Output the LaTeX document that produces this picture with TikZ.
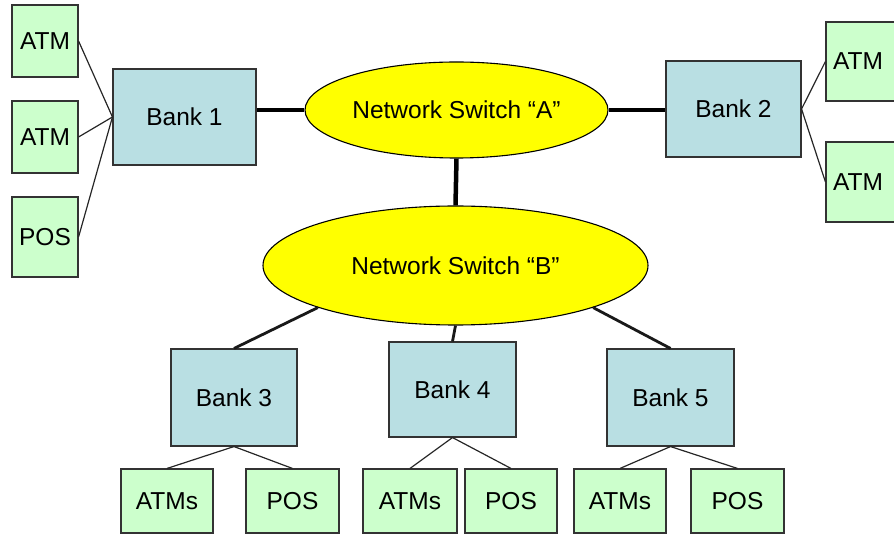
\documentclass[tikz,border=0pt]{standalone}
\usepackage{fontspec}
\setmainfont{Liberation Sans}
\usetikzlibrary{shapes.geometric}
\definecolor{bankblue}{HTML}{B9DFE3}
\definecolor{termgreen}{HTML}{CCFFCC}
\definecolor{switchyellow}{HTML}{FFFF00}
\definecolor{edgegray}{HTML}{333333}
\tikzset{
  boxbase/.style={draw=edgegray, line width=1.1pt, inner sep=0pt, font=\fontsize{24.5}{29}\selectfont},
  bank/.style={boxbase, fill=bankblue, minimum width=#1, minimum height=96pt},
  bank/.default=127pt,
  term/.style={boxbase, fill=termgreen, minimum width=#1},
  switchnode/.style={boxbase, ellipse, fill=switchyellow, draw=black},
  thinlink/.style={line width=1.2pt, draw=black!85},
  thicklink/.style={line width=4.5pt, draw=black},
  banklink/.style={line width=2.8pt, draw=black!90}
}
\begin{document}
\begin{tikzpicture}[x=1pt,y=-1pt]
\useasboundingbox (0,0) rectangle (894,534);

% switches
\node[switchnode, minimum width=303pt, minimum height=96pt] (A) at (456.5,110) {Network Switch “A”};
\node[switchnode, minimum width=385pt, minimum height=119pt] (B) at (455.5,265.5) {Network Switch “B”};

% banks
\node[bank=143pt] (b1) at (184.5,117) {Bank 1};
\node[bank=135pt] (b2) at (733.5,109) {Bank 2};
\node[bank=126pt, minimum height=97pt] (b3) at (234,397.5) {Bank 3};
\node[bank=127pt, minimum height=95pt] (b4) at (452.5,389.5) {Bank 4};
\node[bank=127pt, minimum height=97pt] (b5) at (670.5,397.5) {Bank 5};

% terminals of bank 1
\node[term=66pt, minimum height=72pt] (t1a) at (45,41) {ATM};
\node[term=66pt, minimum height=72pt] (t1b) at (45,137) {ATM};
\node[term=66pt, minimum height=80pt] (t1c) at (45,237) {POS};

% terminals of bank 2
\node[term=70pt, minimum height=79pt] (t2a) at (861,61.5) {\hspace*{-6pt}ATM};
\node[term=70pt, minimum height=80pt] (t2b) at (861,182) {\hspace*{-6pt}ATM};

% terminals of banks 3-5
\node[term=92pt, minimum height=64pt] (t3a) at (167,501) {ATMs};
\node[term=93pt, minimum height=64pt] (t3b) at (292.5,501) {POS};
\node[term=94pt, minimum height=64pt] (t4a) at (410,501) {ATMs};
\node[term=92pt, minimum height=64pt] (t4b) at (511,501) {POS};
\node[term=92pt, minimum height=64pt] (t5a) at (620,501) {ATMs};
\node[term=93pt, minimum height=64pt] (t5b) at (737.5,501) {POS};

% backbone links
\draw[thicklink] (A.west) -- (A.west -| b1.east);
\draw[thicklink] (A.east) -- (A.east -| b2.west);
\draw[thicklink] (A.south) -- (B.north);

% switch B to banks
\draw[banklink] (B.197) -- (b3.north);
\draw[banklink] (B.south) -- (b4.north);
\draw[banklink] (B.343) -- (b5.north);

% bank to terminal links
\draw[thinlink] (t1a.east) -- (b1.west);
\draw[thinlink] (t1b.east) -- (b1.west);
\draw[thinlink] (t1c.east) -- (b1.west);
\draw[thinlink] (b2.east) -- (t2a.west);
\draw[thinlink] (b2.east) -- (t2b.west);
\draw[thinlink] (b3.south) -- (t3a.north);
\draw[thinlink] (b3.south) -- (t3b.north);
\draw[thinlink] (b4.south) -- (t4a.north);
\draw[thinlink] (b4.south) -- (t4b.north);
\draw[thinlink] (b5.south) -- (t5a.north);
\draw[thinlink] (b5.south) -- (t5b.north);
\end{tikzpicture}
\end{document}
